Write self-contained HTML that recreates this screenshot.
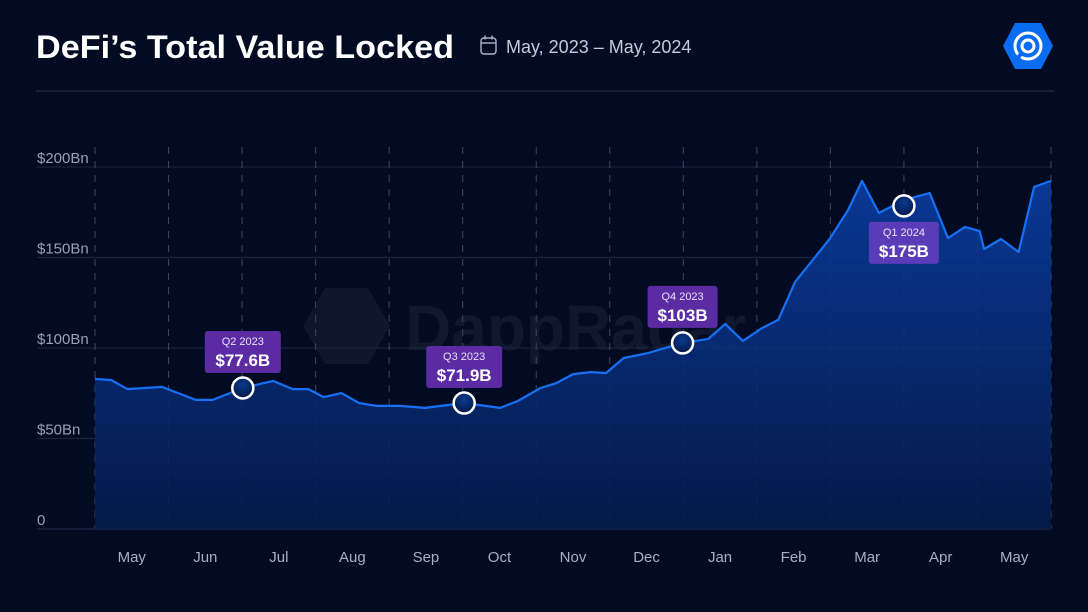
<!DOCTYPE html>
<html><head><meta charset="utf-8"><style>
html,body{margin:0;padding:0;background:#020b22;}
svg{display:block;font-family:"Liberation Sans",sans-serif;}
</style></head><body>
<svg id="chart" width="1088" height="612" viewBox="0 0 1088 612">
<defs>
<linearGradient id="area" x1="0" y1="0" x2="0" y2="1">
<stop offset="0" stop-color="#0a3fa8" stop-opacity="0.85"/>
<stop offset="1" stop-color="#051a4a" stop-opacity="0.9"/>
</linearGradient>
<radialGradient id="dot" cx="0.5" cy="0.35" r="0.7">
<stop offset="0" stop-color="#0b3a8f"/><stop offset="1" stop-color="#031640"/>
</radialGradient>
</defs>
<rect width="1088" height="612" fill="#020b22"/>
<text x="36" y="58" font-size="32" font-weight="bold" fill="#ffffff" textLength="418" lengthAdjust="spacingAndGlyphs">DeFi’s Total Value Locked</text>
<g fill="none" stroke="#aeb5c8" stroke-width="1.4">
<rect x="481" y="38" width="15" height="16" rx="3"/><line x1="481" y1="43" x2="496" y2="43"/><line x1="485" y1="35.5" x2="485" y2="39.5"/><line x1="492" y1="35.5" x2="492" y2="39.5"/>
</g>
<text x="506" y="53" font-size="18" fill="#c5cbdc">May, 2023 – May, 2024</text>
<g>
<polygon points="1015,23 1041,23 1053,46 1041,69 1015,69 1003,46" fill="#0a6cf0"/>
<circle cx="1028" cy="46" r="13" fill="none" stroke="#fff" stroke-width="3"/>
<circle cx="1028" cy="46" r="6" fill="none" stroke="#fff" stroke-width="3"/>
<line x1="1022" y1="52" x2="1018" y2="58" stroke="#0a6cf0" stroke-width="4"/>
</g>
<line x1="36" y1="91" x2="1054" y2="91" stroke="#1a2640" stroke-width="1.5"/>
<g opacity="0.05">
<polygon points="325,288 368,288 390,326 368,364 325,364 303,326" fill="#ffffff"/>
<text x="405" y="350" font-size="64" font-weight="bold" fill="#ffffff">DappRadar</text>
</g>
<g id="grid"></g>
<g id="plot"></g>
<g id="ann"></g>
</svg>
<script>
const months = ["May","Jun","Jul","Aug","Sep","Oct","Nov","Dec","Jan","Feb","Mar","Apr","May"];
const yTicks = [0,50,100,150,200];
const yTickLabels = ["0","$50Bn","$100Bn","$150Bn","$200Bn"];
const t = [0,0.22,0.44,0.91,1.37,1.6,2.01,2.42,2.69,2.9,3.11,3.35,3.59,3.83,4.15,4.49,5.02,5.51,5.75,6.06,6.28,6.5,6.74,6.95,7.19,7.52,7.99,8.34,8.57,8.81,9.07,9.29,9.52,9.99,10.24,10.43,10.66,11.0,11.35,11.6,11.83,12.03,12.09,12.32,12.56,12.77,13.0];
const tvl = [82.9,82.3,77.3,78.5,71.3,71.3,77.9,81.8,77.3,77.3,72.9,75.1,69.6,68,68,66.9,69.6,66.9,70.7,77.9,80.7,85.6,86.7,86.2,94.5,97.2,102.8,105,113.3,103.9,111,115.5,136.5,160.2,176.2,192.3,174.6,181.8,185.6,160.8,166.9,164.6,154.7,160.2,153,189,192.3];
const annT = [2.01,5.02,7.99,11.0];
const annV = [77.9,69.6,102.8,178.5];
const annQuarter = ["Q2 2023","Q3 2023","Q4 2023","Q1 2024"];
const annValue = ["$77.6B","$71.9B","$103B","$175B"];
const annBelow = [false,false,false,true];

const NS="http://www.w3.org/2000/svg";
const x0=95,x1=1051,y0=529,y1=167;
const xS=m=>x0+m*(x1-x0)/13;
const yS=v=>y0-v*(y0-y1)/200;
function mk(tag,attrs,parent){const e=document.createElementNS(NS,tag);for(const k in attrs)e.setAttribute(k,attrs[k]);parent.appendChild(e);return e;}
const grid=document.getElementById('grid'),plot=document.getElementById('plot'),ann=document.getElementById('ann');
yTicks.forEach((v,i)=>{
  const l=mk('line',{x1:37,x2:x1,y1:yS(v),y2:yS(v),stroke:i===0?'#1d2b48':'#16243f','stroke-width':1.3},grid);
  
  
  const tx=mk('text',{x:37,y:yS(v)-4,'font-size':15,fill:'#98a1b5'},grid);
  tx.textContent=yTickLabels[i];
  
  
});
for(let m=0;m<=13;m++){
  const l=mk('line',{x1:xS(m),x2:xS(m),y1:147,y2:y0,stroke:'#3a4762','stroke-width':1,'stroke-dasharray':'7,7'},grid);
  
  
}
months.forEach((mo,i)=>{
  const tx=mk('text',{x:xS(i+0.5),y:562,'font-size':15,fill:'#a9b0c3','text-anchor':'middle'},grid);
  tx.textContent=mo;
  
  
});
let d='';t.forEach((m,i)=>{d+=(i?'L':'M')+xS(m).toFixed(1)+','+yS(tvl[i]).toFixed(1);});
const area=mk('path',{d:d+'L'+xS(t[t.length-1])+','+y0+'L'+xS(t[0])+','+y0+'Z',fill:'url(#area)'},plot);


const line=mk('path',{d:d,fill:'none',stroke:'#1670f5','stroke-width':2.2,'stroke-linejoin':'round'},plot);


annT.forEach((m,i)=>{
  const cx=xS(m),cy=yS(annV[i]);
  const c=mk('circle',{cx:cx,cy:cy,r:10.5,fill:'url(#dot)',stroke:'#ffffff','stroke-width':2.5},ann);
  
  
  const w=annValue[i].length>5?76:70,h=42;
  const top=annBelow[i]?cy+16:cy-15-h;
  const r=mk('rect',{x:cx-w/2,y:top,width:w,height:h,rx:3,fill:annBelow[i]?'#5a3cb8':'#5b2ba3'},ann);
  
  
  const q=mk('text',{x:cx,y:top+14,'font-size':11,fill:'#e8e2f6','text-anchor':'middle'},ann);
  q.textContent=annQuarter[i];
  
  
  const v=mk('text',{x:cx,y:top+35,'font-size':17,'font-weight':'bold',fill:'#ffffff','text-anchor':'middle'},ann);
  v.textContent=annValue[i];
  
  
});
</script>
</body></html>
